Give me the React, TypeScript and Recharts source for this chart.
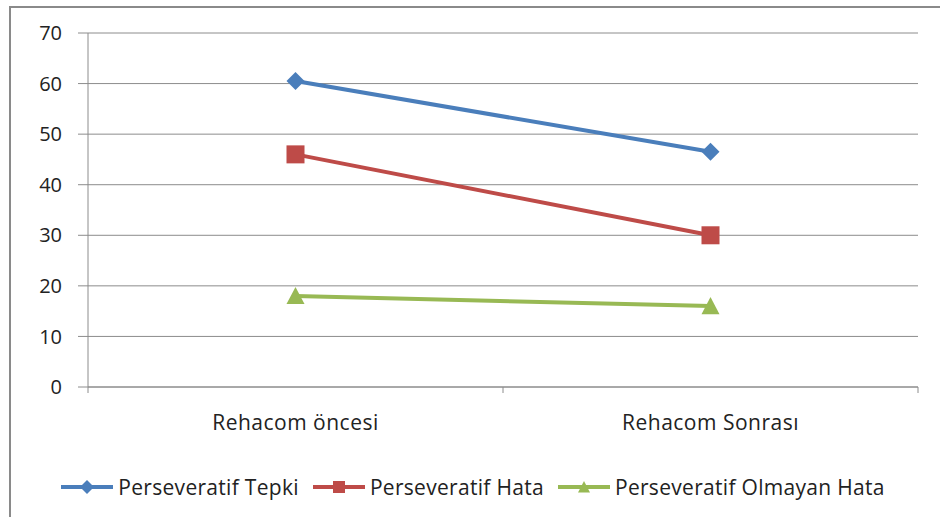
import React from "react"
import { LineChart, Line, XAxis, YAxis, CartesianGrid, Legend, Text } from "recharts"

const categories = ["Rehacom öncesi", "Rehacom Sonrası"]
const tepki = [60.5, 46.5]
const hata = [46, 30]
const olmayan = [18, 16]
const yTicks = [0, 10, 20, 30, 40, 50, 60, 70]

const series = [
  { key: "tepki", name: "Perseveratif Tepki", color: "#4A7EBB", shape: "diamond" },
  { key: "hata", name: "Perseveratif Hata", color: "#BE4B48", shape: "square" },
  { key: "olmayan", name: "Perseveratif Olmayan Hata", color: "#98B954", shape: "triangle" },
]

// each category sits in the middle of its slot on a 0..n axis
const data = categories.map((c, i) => ({
  name: c,
  pos: i + 0.5,
  tepki: tepki[i],
  hata: hata[i],
  olmayan: olmayan[i],
}))

// slot boundaries and centres
const xTicks: number[] = []
for (let i = 0; i <= categories.length; i++) {
  xTicks.push(i)
  if (i < categories.length) xTicks.push(i + 0.5)
}

const FONT = "'Open Sans', sans-serif"
const AXIS = "#8c8c8c"

function Marker({ shape, cx, cy, r, color }: { shape: string; cx: number; cy: number; r: number; color: string }) {
  if (shape === "diamond") {
    return <polygon points={`${cx},${cy - r} ${cx + r},${cy} ${cx},${cy + r} ${cx - r},${cy}`} fill={color} />
  }
  if (shape === "square") {
    return <rect x={cx - r} y={cy - r} width={r * 2} height={r * 2} fill={color} />
  }
  return <polygon points={`${cx},${cy - r} ${cx + r},${cy + r * 0.9} ${cx - r},${cy + r * 0.9}`} fill={color} />
}

function makeDot(shape: string, color: string, r: number) {
  return (props: any) => {
    const { cx, cy, index } = props
    if (cx == null || cy == null) return <g key={index} />
    return <Marker key={index} shape={shape} cx={cx} cy={cy} r={r} color={color} />
  }
}

// boundaries get a small tick mark, centres get the category name
function CatTick(props: any) {
  const { x, y, payload } = props
  const v = payload.value
  if (Number.isInteger(v)) {
    return <line x1={x} y1={y} x2={x} y2={y + 6} stroke={AXIS} strokeWidth={1} />
  }
  return (
    <Text x={x} y={y + 28} textAnchor="middle" verticalAnchor="start" fontFamily={FONT} fontSize={21} fill="#222" style={{ letterSpacing: 0.5 }}>
      {categories[Math.floor(v)]}
    </Text>
  )
}

function LegendContent() {
  return (
    <div style={{ display: "flex", justifyContent: "center", alignItems: "center", height: 28, paddingLeft: 20, fontFamily: FONT, fontSize: 21, letterSpacing: 0.3, color: "#222" }}>
      {series.map((s) => (
        <div key={s.key} style={{ display: "flex", alignItems: "center", marginRight: 14 }}>
          <svg width={52} height={20} style={{ marginRight: 5 }}>
            <line x1={0} y1={10} x2={52} y2={10} stroke={s.color} strokeWidth={4} />
            <Marker shape={s.shape} cx={26} cy={10} r={s.shape === "diamond" ? 7 : 6} color={s.color} />
          </svg>
          <span>{s.name}</span>
        </div>
      ))}
    </div>
  )
}

export default function App() {
  return (
    <div style={{ position: "absolute", left: 0, top: 0, width: 940, height: 517, overflow: "hidden", background: "#fff" }}>
      <div style={{ position: "absolute", left: 9, top: 6, width: 960, height: 540, borderLeft: "2px solid #8a8a8a", borderTop: "2px solid #8a8a8a" }} />
      <div style={{ position: "absolute", left: 0, top: 0 }}>
        <LineChart width={940} height={517} data={data} margin={{ top: 33, right: 22, left: 0, bottom: 16 }}>
          <CartesianGrid vertical={false} stroke={AXIS} strokeWidth={1} />
          <XAxis
            dataKey="pos"
            type="number"
            domain={[0, categories.length]}
            ticks={xTicks}
            interval={0}
            height={86}
            axisLine={{ stroke: AXIS }}
            tickLine={false}
            tickSize={0}
            tickMargin={0}
            tick={<CatTick />}
          />
          <YAxis
            width={88}
            domain={[0, 70]}
            ticks={yTicks}
            interval={0}
            axisLine={{ stroke: AXIS }}
            tickLine={{ stroke: AXIS }}
            tickSize={10}
            tickMargin={16}
            tick={{ fontFamily: FONT, fontSize: 20, fill: "#222" }}
          />
          <Legend verticalAlign="bottom" content={<LegendContent />} wrapperStyle={{ left: 0, width: 940 }} />
          {series.map((s) => (
            <Line
              key={s.key}
              dataKey={s.key}
              name={s.name}
              stroke={s.color}
              strokeWidth={4}
              dot={makeDot(s.shape, s.color, 9)}
              activeDot={false}
              isAnimationActive={false}
            />
          ))}
        </LineChart>
      </div>
    </div>
  )
}
